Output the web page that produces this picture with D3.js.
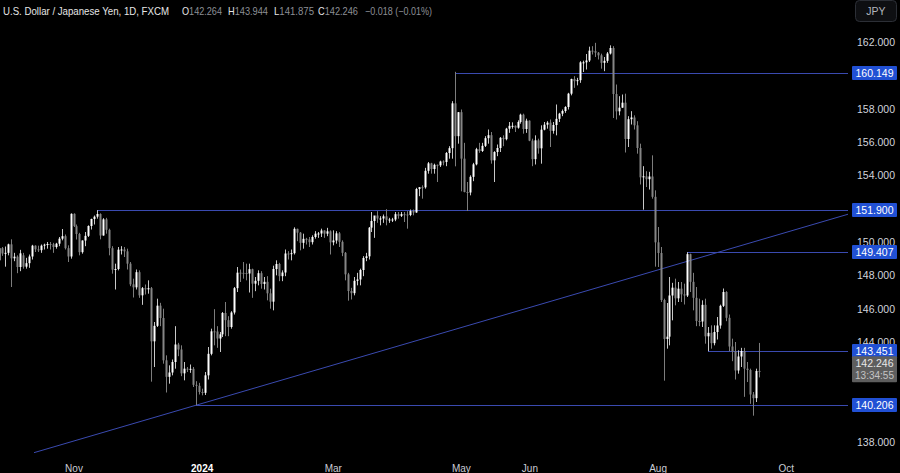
<!DOCTYPE html>
<html>
<head>
<meta charset="utf-8">
<script src="https://cdn.jsdelivr.net/npm/d3@7"></script>
<style>
  html, body { margin: 0; padding: 0; background: #000; }
  svg { display: block; }
  text { font-family: "Liberation Sans", Arial, sans-serif; }
</style>
</head>
<body>
<svg id="chart" width="900" height="473"></svg>
<script>
// USD/JPY daily bars, 27 Sep 2023 (index 0) .. 18 Sep 2024 (index 255), weekdays only
const open = [
  148.90, 149.63, 149.31,
  149.35, 149.86, 149.02, 149.12, 148.50,
  149.20, 148.52, 148.73, 149.13, 149.78,
  149.56, 149.51, 149.78, 149.84, 149.88,
  149.86, 149.70, 149.90, 150.20, 150.35,
  149.63, 149.13, 151.69, 150.95, 150.48,
  149.39, 150.09, 150.37, 150.96, 151.38,
  151.52, 151.68, 150.39, 151.36, 150.73,
  149.63, 148.34, 148.38, 149.54, 149.55,
  149.44, 148.70, 147.46, 147.28, 148.19,
  146.80, 147.23, 147.16, 147.23, 144.04,
  144.97, 146.18, 145.44, 142.90, 141.91,
  142.17, 142.80, 143.85, 143.55, 142.12,
  142.40, 142.34, 142.39, 141.43, 141.37,
  141.00, 140.95, 142.00, 143.29, 144.64,
  144.63, 144.21, 144.46, 145.74, 145.31,
  144.90, 145.77, 147.23, 148.16, 148.15,
  148.14, 148.11, 148.37, 147.50, 147.67,
  148.13, 147.48, 147.61, 146.92, 146.42,
  148.38, 148.68, 147.95, 148.17, 149.31,
  149.28, 149.33, 150.79, 150.56, 149.95,
  150.19, 150.16, 149.99, 150.30, 150.50,
  150.51, 150.69, 150.50, 150.64, 149.98,
  150.09, 150.52, 150.01, 149.35, 148.06,
  147.06, 146.93, 147.67, 147.75, 148.32,
  149.04, 149.14, 150.86, 151.26, 151.59,
  151.41, 151.41, 151.54, 151.33, 151.35,
  151.35, 151.67, 151.57, 151.67, 151.65,
  151.62, 151.86, 151.77, 153.18, 153.29,
  153.28, 154.27, 154.72, 154.38, 154.63,
  154.60, 154.83, 154.80, 155.34, 155.63,
  158.32, 156.35, 157.79, 155.00, 153.00,
  152.97, 153.91, 154.66, 155.57, 155.46,
  155.77, 156.23, 156.41, 154.90, 155.40,
  155.64, 156.25, 156.17, 156.80, 156.97,
  156.97, 156.86, 157.20, 157.64, 156.78,
  157.28, 156.08, 154.97, 156.10, 155.62,
  156.74, 157.04, 157.16, 156.67, 157.02,
  157.39, 157.70, 157.86, 158.10, 158.90,
  159.78, 159.65, 159.71, 160.78, 160.78,
  160.89, 161.48, 161.45, 161.36, 161.20,
  160.75, 160.87, 161.31, 161.64, 158.88,
  157.84, 158.06, 158.36, 156.18, 157.37,
  157.47, 157.00, 155.64, 153.88, 153.94,
  153.77, 153.93, 152.71, 149.98, 149.34,
  146.52, 144.18, 144.32, 146.79, 147.26,
  146.62, 147.20, 146.86, 146.79, 149.27,
  147.61, 146.65, 145.26, 145.23, 146.23,
  144.34, 144.55, 143.93, 144.60, 144.99,
  146.17, 147.00, 145.45, 143.73, 143.44,
  142.29, 143.13, 143.46, 142.40, 142.32,
  140.85, 140.63, 142.264
];
const high = [
  149.71, 149.70, 149.73,
  149.90, 150.16, 149.35, 149.20, 149.53,
  149.35, 149.05, 149.25, 149.83, 149.80,
  149.78, 149.85, 149.90, 150.00, 150.00,
  149.95, 149.95, 150.30, 150.78, 150.45,
  149.80, 151.72, 151.72, 151.05, 150.55,
  150.10, 150.60, 151.00, 151.40, 151.59,
  151.91, 151.72, 151.43, 151.45, 150.80,
  149.75, 148.70, 149.70, 149.75, 149.70,
  149.60, 148.80, 147.80, 148.35, 148.30,
  147.30, 147.45, 147.70, 147.30, 145.20,
  146.60, 146.35, 146.00, 143.20, 142.60,
  142.95, 144.95, 143.95, 143.80, 142.80,
  142.50, 142.65, 142.50, 141.65, 141.55,
  141.20, 142.20, 143.70, 144.80, 145.97,
  144.95, 144.60, 145.80, 146.40, 145.55,
  145.85, 147.30, 148.50, 148.35, 148.80,
  148.70, 148.70, 148.40, 147.90, 148.30,
  148.25, 147.90, 147.95, 147.20, 148.58,
  148.90, 148.75, 148.30, 149.55, 149.45,
  149.55, 150.88, 150.80, 150.60, 150.50,
  150.25, 150.30, 150.40, 150.65, 150.60,
  150.80, 150.70, 150.85, 150.70, 150.70,
  150.65, 150.60, 150.10, 149.40, 148.15,
  147.25, 147.90, 148.15, 148.40, 149.15,
  149.35, 150.90, 151.80, 151.40, 151.85,
  151.55, 151.65, 151.97, 151.45, 151.45,
  151.80, 151.80, 151.80, 151.80, 151.85,
  151.95, 151.95, 153.25, 153.30, 153.40,
  154.45, 154.80, 154.75, 154.70, 154.65,
  154.88, 154.90, 155.40, 155.75, 158.45,
  160.21, 157.80, 157.95, 155.95, 153.60,
  154.00, 154.75, 155.65, 155.95, 155.95,
  156.35, 156.75, 156.60, 155.45, 155.85,
  156.30, 156.40, 156.85, 157.20, 157.18,
  157.00, 157.30, 157.70, 157.70, 157.40,
  157.30, 156.20, 156.40, 156.20, 157.00,
  157.20, 157.25, 157.35, 157.20, 158.25,
  157.75, 157.95, 158.15, 158.95, 159.80,
  159.95, 159.85, 160.85, 160.88, 161.28,
  161.72, 161.75, 161.95, 161.40, 161.30,
  161.10, 161.40, 161.80, 161.75, 159.45,
  158.75, 158.85, 158.90, 157.55, 157.85,
  157.60, 157.25, 155.90, 154.55, 154.25,
  154.21, 155.20, 153.10, 150.90, 149.70,
  146.60, 146.34, 147.90, 147.55, 147.80,
  147.60, 147.60, 147.50, 149.39, 149.30,
  148.15, 147.30, 146.60, 146.50, 146.60,
  144.90, 145.00, 145.00, 145.50, 146.24,
  147.21, 147.05, 145.65, 144.20, 144.00,
  143.50, 143.65, 143.65, 142.80, 142.40,
  141.00, 142.40, 143.944
];
const low = [
  148.80, 149.17, 148.52,
  149.20, 147.30, 148.85, 148.13, 148.25,
  148.40, 148.40, 148.45, 148.95, 149.40,
  149.40, 149.35, 149.55, 149.60, 149.55,
  149.35, 149.60, 149.75, 150.10, 149.55,
  148.80, 149.00, 150.90, 150.15, 149.20,
  149.30, 149.75, 150.30, 150.75, 151.05,
  151.40, 150.16, 150.38, 150.50, 149.20,
  148.10, 147.15, 148.30, 149.25, 149.10,
  148.35, 147.35, 146.67, 147.15, 146.65,
  146.23, 146.85, 146.90, 141.62, 142.50,
  144.90, 144.95, 142.70, 140.97, 141.50,
  142.00, 142.40, 143.15, 141.95, 141.70,
  142.20, 142.15, 141.30, 140.21, 140.85,
  140.80, 140.82, 141.75, 143.20, 143.80,
  143.65, 143.40, 144.30, 144.35, 144.35,
  144.80, 145.65, 147.00, 147.60, 147.80,
  147.70, 146.97, 146.65, 147.05, 147.40,
  147.20, 147.15, 146.50, 146.00, 145.90,
  148.00, 147.65, 147.65, 147.95, 148.95,
  148.90, 149.25, 150.05, 149.50, 149.60,
  149.85, 149.70, 149.85, 150.20, 150.25,
  150.30, 150.25, 150.35, 149.25, 149.80,
  149.90, 149.70, 149.15, 147.70, 146.48,
  146.55, 146.80, 147.40, 147.40, 147.95,
  148.85, 148.95, 150.60, 150.25, 151.15,
  151.00, 151.15, 151.00, 151.15, 151.20,
  151.25, 151.40, 151.50, 151.20, 150.80,
  151.55, 151.60, 151.75, 152.75, 152.60,
  153.20, 154.10, 154.10, 154.10, 153.60,
  154.50, 154.60, 154.55, 155.00, 155.00,
  154.54, 155.90, 153.04, 152.98, 151.86,
  152.80, 153.65, 154.60, 155.35, 155.40,
  155.70, 155.90, 154.70, 153.60, 155.15,
  155.40, 155.75, 156.10, 156.55, 156.80,
  156.60, 156.80, 157.10, 156.50, 156.55,
  156.05, 154.55, 154.65, 155.30, 154.70,
  156.70, 156.80, 155.70, 156.50, 156.40,
  157.20, 157.55, 157.75, 157.95, 158.80,
  159.25, 159.40, 159.55, 160.20, 160.35,
  160.80, 161.25, 161.10, 160.95, 160.40,
  160.25, 160.75, 161.25, 157.44, 157.35,
  157.60, 158.05, 155.37, 155.70, 157.05,
  156.75, 155.30, 153.45, 151.94, 153.30,
  153.15, 152.60, 148.52, 148.50, 146.40,
  141.68, 143.60, 143.80, 145.30, 146.20,
  146.40, 146.40, 146.25, 146.70, 147.00,
  145.90, 144.95, 144.95, 144.90, 143.90,
  143.45, 143.60, 143.80, 144.15, 144.80,
  146.10, 145.25, 143.45, 142.85, 141.75,
  142.10, 142.50, 140.71, 141.60, 140.29,
  139.58, 140.40, 141.875
];
const close = [
  149.63, 149.31, 149.35,
  149.86, 149.02, 149.12, 148.50, 149.32,
  148.52, 148.73, 149.13, 149.78, 149.56,
  149.51, 149.78, 149.84, 149.88, 149.86,
  149.70, 149.90, 150.20, 150.35, 149.63,
  149.13, 151.69, 150.95, 150.48, 149.39,
  150.09, 150.37, 150.96, 151.38, 151.52,
  151.68, 150.39, 151.36, 150.73, 149.63,
  148.34, 148.38, 149.54, 149.55, 149.44,
  148.70, 147.46, 147.28, 148.19, 146.80,
  147.23, 147.16, 147.23, 144.04, 144.97,
  146.18, 145.44, 142.90, 141.91, 142.17,
  142.80, 143.85, 143.55, 142.12, 142.40,
  142.34, 142.39, 141.43, 141.37, 141.00,
  140.95, 142.00, 143.29, 144.64, 144.63,
  144.21, 144.46, 145.74, 145.31, 144.90,
  145.77, 147.23, 148.16, 148.15, 148.14,
  148.11, 148.37, 147.50, 147.67, 148.13,
  147.48, 147.61, 146.92, 146.42, 148.38,
  148.68, 147.95, 148.17, 149.31, 149.28,
  149.33, 150.79, 150.56, 149.95, 150.19,
  150.16, 149.99, 150.30, 150.50, 150.51,
  150.69, 150.50, 150.64, 149.98, 150.09,
  150.52, 150.01, 149.35, 148.06, 147.06,
  146.93, 147.67, 147.75, 148.32, 149.04,
  149.14, 150.86, 151.26, 151.59, 151.41,
  151.41, 151.54, 151.33, 151.35, 151.35,
  151.67, 151.57, 151.67, 151.65, 151.62,
  151.86, 151.77, 153.18, 153.29, 153.28,
  154.27, 154.72, 154.38, 154.63, 154.60,
  154.83, 154.80, 155.34, 155.63, 158.32,
  156.35, 157.79, 155.00, 153.00, 152.97,
  153.91, 154.66, 155.57, 155.46, 155.77,
  156.23, 156.41, 154.90, 155.40, 155.64,
  156.25, 156.17, 156.80, 156.97, 156.97,
  156.86, 157.20, 157.64, 156.78, 157.28,
  156.08, 154.97, 156.10, 155.62, 156.74,
  157.04, 157.16, 156.67, 157.02, 157.39,
  157.70, 157.86, 158.10, 158.90, 159.78,
  159.65, 159.71, 160.78, 160.78, 160.89,
  161.48, 161.45, 161.36, 161.20, 160.75,
  160.87, 161.31, 161.64, 158.88, 157.84,
  158.06, 158.36, 156.18, 157.37, 157.47,
  157.00, 155.64, 153.88, 153.94, 153.77,
  153.93, 152.71, 149.98, 149.34, 146.52,
  144.18, 144.32, 146.79, 147.26, 146.62,
  147.20, 146.86, 146.79, 149.27, 147.61,
  146.65, 145.26, 145.23, 146.23, 144.34,
  144.55, 143.93, 144.60, 144.99, 146.17,
  147.00, 145.45, 143.73, 143.44, 142.29,
  143.13, 143.46, 142.40, 142.32, 140.85,
  140.63, 142.26, 142.246
];

// time axis: bar index of each label
const monthLabels = ["Nov", "2024", "Mar", "May", "Jun", "Aug", "Oct"];
const monthIndex = [25, 68, 112, 155, 178, 221, 264];

// price axis ticks (the ones not hidden behind a level label)
const priceTicks = [138, 144, 146, 148, 150, 154, 156, 158, 162];

// horizontal levels (price, bar where the line starts)
const levelPrice = [160.149, 151.900, 149.407, 143.451, 140.206];
const levelStart = [153, 33, 231, 238, 66];

// rising trendline: two anchors [bar index, price]
const trendPoints = [[11.75, 137.36], [285, 151.67]];

const svg = d3.select('#chart');
const W = 900, H = 473;
const plotRight = 848, plotBottom = 457;

svg.append('rect').attr('width', W).attr('height', H).attr('fill', '#000');

const x = d3.scaleLinear().domain([25, 264]).range([73.5, 785.7]);
const y = d3.scaleLinear().domain([138, 162]).range([442, 42]);

svg.append('clipPath').attr('id', 'plot-clip')
  .append('rect').attr('x', 0).attr('y', 0).attr('width', plotRight).attr('height', plotBottom);

const plot = svg.append('g').attr('clip-path', 'url(#plot-clip)');

const lineColor = '#3a4ab0';

// levels
plot.selectAll('line.level')
  .data(levelPrice)
  .join('line')
  .attr('class', 'level')
  .attr('x1', (d, k) => Math.round(x(levelStart[k])))
  .attr('x2', plotRight)
  .attr('y1', d => Math.round(y(d)) + 0.5)
  .attr('y2', d => Math.round(y(d)) + 0.5)
  .attr('stroke', lineColor)
  .attr('stroke-width', 1);

// trendline
plot.append('line')
  .attr('x1', x(trendPoints[0][0])).attr('y1', y(trendPoints[0][1]))
  .attr('x2', x(trendPoints[1][0])).attr('y2', y(trendPoints[1][1]))
  .attr('stroke', lineColor)
  .attr('stroke-width', 1);

// candles
const bars = d3.range(open.length);
const candle = plot.selectAll('g.candle')
  .data(bars)
  .join('g')
  .attr('class', 'candle');

const isUp = i => close[i] >= open[i];

candle.append('rect')
  .attr('x', i => Math.round(x(i)))
  .attr('width', 1)
  .attr('y', i => y(high[i]))
  .attr('height', i => Math.max(1, y(low[i]) - y(high[i])))
  .attr('fill', i => isUp(i) ? '#c8c8c8' : '#7d7d7d');

candle.append('rect')
  .attr('x', i => Math.round(x(i)) - 0.5)
  .attr('width', 2)
  .attr('y', i => y(Math.max(open[i], close[i])))
  .attr('height', i => Math.max(1, Math.abs(y(open[i]) - y(close[i]))))
  .attr('fill', i => isUp(i) ? '#ffffff' : '#858585');

// x axis
const xAxis = svg.append('g')
  .attr('transform', `translate(0,${plotBottom})`)
  .call(d3.axisBottom(x).tickValues(monthIndex).tickFormat((d, k) => monthLabels[k]).tickSize(0).tickPadding(8));
xAxis.select('.domain').remove();
xAxis.selectAll('text')
  .attr('fill', (d, k) => k === 1 ? '#ffffff' : '#c9ccd4')
  .attr('font-weight', (d, k) => k === 1 ? 'bold' : 'normal')
  .attr('font-size', 10)
  .attr('font-family', '"Liberation Sans", Arial, sans-serif');

// price axis
const yAxis = svg.append('g')
  .attr('transform', `translate(${plotRight},0)`)
  .call(d3.axisRight(y).tickValues(priceTicks).tickFormat(d3.format('.3f')).tickSize(0).tickPadding(0));
yAxis.select('.domain').remove();
yAxis.selectAll('text')
  .attr('x', 28)
  .attr('text-anchor', 'middle')
  .attr('fill', '#d1d4dc')
  .attr('font-size', 10.5)
  .attr('font-family', '"Liberation Sans", Arial, sans-serif');

// level labels
const lab = svg.append('g');
levelPrice.forEach(p => {
  const cy = Math.round(y(p));
  lab.append('rect')
    .attr('x', 852).attr('y', cy - 7).attr('width', 45).attr('height', 14)
    .attr('rx', 1).attr('fill', '#2150d4');
  lab.append('text')
    .attr('x', 874.5).attr('y', cy).attr('dy', '0.35em')
    .attr('text-anchor', 'middle').attr('fill', '#fff').attr('font-size', 10.5)
    .text(p.toFixed(3));
});

// last price label with countdown
const last = close[close.length - 1];
const ly = y(last);
lab.append('rect')
  .attr('x', 852).attr('y', ly - 15).attr('width', 45).attr('height', 26)
  .attr('rx', 1).attr('fill', '#5e5e5e');
lab.append('text')
  .attr('x', 874.5).attr('y', ly - 8).attr('dy', '0.35em')
  .attr('text-anchor', 'middle').attr('fill', '#e8e8e8').attr('font-size', 10.5)
  .text(last.toFixed(3));
lab.append('text')
  .attr('x', 874.5).attr('y', ly + 4).attr('dy', '0.35em')
  .attr('text-anchor', 'middle').attr('fill', '#c4c4c4').attr('font-size', 10)
  .text('13:34:55');

// currency button
svg.append('rect')
  .attr('x', 855.5).attr('y', 0.5).attr('width', 41).attr('height', 21).attr('rx', 4)
  .attr('fill', '#0e0f12').attr('stroke', '#2c2f36');
svg.append('text')
  .attr('x', 876).attr('y', 11).attr('dy', '0.35em').attr('text-anchor', 'middle')
  .attr('fill', '#b2b5be').attr('font-size', 10.5).text('JPY');

// header legend
const head = svg.append('g').attr('font-size', 10.5);
head.append('text').attr('x', 3).attr('y', 14.5).attr('fill', '#e6e6e6')
  .attr('textLength', 166).attr('lengthAdjust', 'spacingAndGlyphs')
  .text('U.S. Dollar / Japanese Yen, 1D, FXCM');
const ohlcKeys = ['O', 'H', 'L', 'C'];
const ohlcVals = [open, high, low, close].map(a => a[a.length - 1].toFixed(3));
const ohlcX = [182, 228, 274, 318];
ohlcKeys.forEach((k, n) => {
  const t = head.append('text').attr('x', ohlcX[n]).attr('y', 14.5)
    .attr('textLength', 40).attr('lengthAdjust', 'spacingAndGlyphs');
  t.append('tspan').attr('fill', '#e6e6e6').text(k);
  t.append('tspan').attr('fill', '#8c8f96').text(ohlcVals[n]);
});
head.append('text').attr('x', 365).attr('y', 14.5).attr('fill', '#8c8f96')
  .attr('textLength', 67).attr('lengthAdjust', 'spacingAndGlyphs')
  .text('\u22120.018 (\u22120.01%)');
</script>
</body>
</html>
